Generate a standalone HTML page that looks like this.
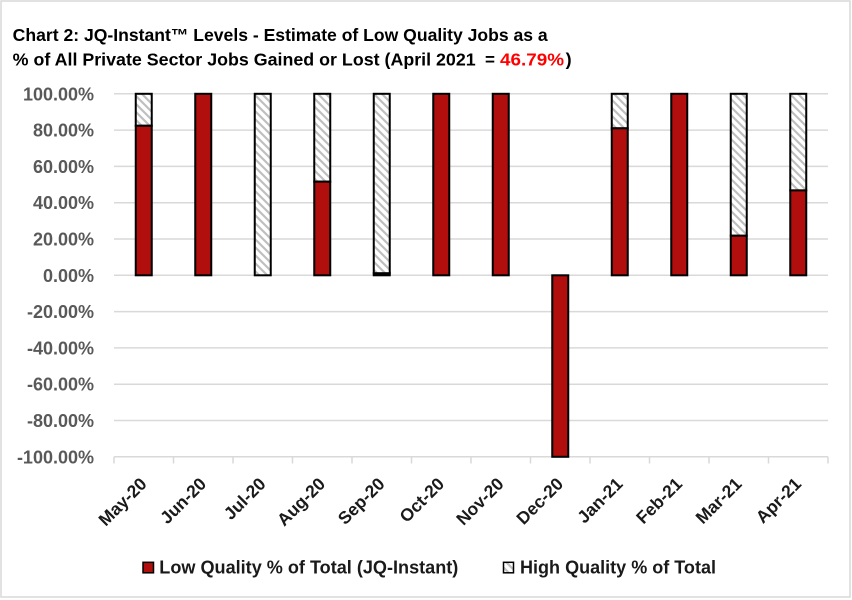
<!DOCTYPE html>
<html>
<head>
<meta charset="utf-8">
<style>
  html, body { margin: 0; padding: 0; background: #ffffff; }
  body { width: 852px; height: 600px; overflow: hidden; }
  svg { display: block; }
  text { font-family: "Liberation Sans", Arial, sans-serif; font-weight: bold; }
</style>
</head>
<body>
<svg width="852" height="600" viewBox="0 0 852 600" xmlns="http://www.w3.org/2000/svg">
  <defs>
    <pattern id="hatch" patternUnits="userSpaceOnUse" width="8" height="8">
      <rect width="8" height="8" fill="#ffffff"/>
      <path d="M-2,-2 L10,10 M-2,6 L2,10 M6,-2 L10,2" stroke="#bfbfbf" stroke-width="2.2"/>
    </pattern>
  </defs>

  <!-- background + outer border -->
  <rect x="0" y="0" width="852" height="600" fill="#ffffff"/>
  <rect x="1" y="1" width="849" height="596" fill="none" stroke="#d9d9d9" stroke-width="1.5"/>

  <!-- Title -->
  <text x="12.7" y="41" font-size="17.5" fill="#000000" textLength="535" lengthAdjust="spacingAndGlyphs">Chart 2: JQ-Instant™ Levels - Estimate of Low Quality Jobs as a</text>
  <text x="12.7" y="65.5" font-size="17.5" fill="#000000" textLength="463" lengthAdjust="spacingAndGlyphs">% of All Private Sector Jobs Gained or Lost (April 2021</text>
  <text x="485" y="65.5" font-size="17.5" fill="#000000" textLength="10" lengthAdjust="spacingAndGlyphs">=</text>
  <text x="500" y="65.5" font-size="17.5" fill="#ff0000" textLength="64" lengthAdjust="spacingAndGlyphs">46.79%</text>
  <text x="565.7" y="65.5" font-size="17.5" fill="#000000" textLength="6" lengthAdjust="spacingAndGlyphs">)</text>

  <!-- gridlines -->
  <g stroke="#d9d9d9" stroke-width="1.5">
    <line x1="114" y1="93.8" x2="828" y2="93.8"/>
    <line x1="114" y1="130.1" x2="828" y2="130.1"/>
    <line x1="114" y1="166.4" x2="828" y2="166.4"/>
    <line x1="114" y1="202.7" x2="828" y2="202.7"/>
    <line x1="114" y1="239.0" x2="828" y2="239.0"/>
    <line x1="114" y1="275.3" x2="828" y2="275.3"/>
    <line x1="114" y1="311.6" x2="828" y2="311.6"/>
    <line x1="114" y1="347.9" x2="828" y2="347.9"/>
    <line x1="114" y1="384.2" x2="828" y2="384.2"/>
    <line x1="114" y1="420.5" x2="828" y2="420.5"/>
    <!-- category axis at -100% -->
    <line x1="114" y1="456.8" x2="828" y2="456.8"/>
    <!-- tick marks -->
    <line x1="114" y1="456.8" x2="114" y2="463.5"/>
    <line x1="173.5" y1="456.8" x2="173.5" y2="463.5"/>
    <line x1="233" y1="456.8" x2="233" y2="463.5"/>
    <line x1="292.5" y1="456.8" x2="292.5" y2="463.5"/>
    <line x1="352" y1="456.8" x2="352" y2="463.5"/>
    <line x1="411.5" y1="456.8" x2="411.5" y2="463.5"/>
    <line x1="471" y1="456.8" x2="471" y2="463.5"/>
    <line x1="530.5" y1="456.8" x2="530.5" y2="463.5"/>
    <line x1="590" y1="456.8" x2="590" y2="463.5"/>
    <line x1="649.5" y1="456.8" x2="649.5" y2="463.5"/>
    <line x1="709" y1="456.8" x2="709" y2="463.5"/>
    <line x1="768.5" y1="456.8" x2="768.5" y2="463.5"/>
    <line x1="828" y1="456.8" x2="828" y2="463.5"/>
  </g>

  <!-- Y axis labels -->
  <g font-size="18" fill="#595959" text-anchor="end">
    <text x="94" y="100.3">100.00%</text>
    <text x="94" y="136.6">80.00%</text>
    <text x="94" y="172.9">60.00%</text>
    <text x="94" y="209.2">40.00%</text>
    <text x="94" y="245.5">20.00%</text>
    <text x="94" y="281.8">0.00%</text>
    <text x="94" y="318.1">-20.00%</text>
    <text x="94" y="354.4">-40.00%</text>
    <text x="94" y="390.7">-60.00%</text>
    <text x="94" y="427.0">-80.00%</text>
    <text x="94" y="463.3">-100.00%</text>
  </g>

  <!-- Bars -->
  <g stroke="#000000" stroke-width="2">
    <!-- May-20 82.4% -->
    <rect x="135.75" y="93.8" width="16" height="31.94" fill="url(#hatch)"/>
    <rect x="135.75" y="125.74" width="16" height="149.56" fill="#b10e0e"/>
    <!-- Jun-20 100% -->
    <rect x="195.25" y="93.8" width="16" height="181.5" fill="#b10e0e"/>
    <!-- Jul-20 0% -->
    <rect x="254.75" y="93.8" width="16" height="181.5" fill="url(#hatch)"/>
    <!-- Aug-20 51.6% -->
    <rect x="314.25" y="93.8" width="16" height="87.85" fill="url(#hatch)"/>
    <rect x="314.25" y="181.65" width="16" height="93.65" fill="#b10e0e"/>
    <!-- Sep-20 ~1% -->
    <rect x="373.75" y="93.8" width="16" height="179.5" fill="url(#hatch)"/>
    <rect x="373.75" y="273.3" width="16" height="2" fill="#b10e0e"/>
    <!-- Oct-20 100% -->
    <rect x="433.25" y="93.8" width="16" height="181.5" fill="#b10e0e"/>
    <!-- Nov-20 100% -->
    <rect x="492.75" y="93.8" width="16" height="181.5" fill="#b10e0e"/>
    <!-- Dec-20 -100% -->
    <rect x="552.25" y="275.3" width="16" height="181.5" fill="#b10e0e"/>
    <!-- Jan-21 81% -->
    <rect x="611.75" y="93.8" width="16" height="34.5" fill="url(#hatch)"/>
    <rect x="611.75" y="128.3" width="16" height="147.0" fill="#b10e0e"/>
    <!-- Feb-21 100% -->
    <rect x="671.25" y="93.8" width="16" height="181.5" fill="#b10e0e"/>
    <!-- Mar-21 21.8% -->
    <rect x="730.75" y="93.8" width="16" height="141.9" fill="url(#hatch)"/>
    <rect x="730.75" y="235.7" width="16" height="39.6" fill="#b10e0e"/>
    <!-- Apr-21 46.79% -->
    <rect x="790.25" y="93.8" width="16" height="96.6" fill="url(#hatch)"/>
    <rect x="790.25" y="190.4" width="16" height="84.9" fill="#b10e0e"/>
  </g>

  <!-- X axis labels (rotated -45) -->
  <g font-size="17.5" fill="#1a1a1a" text-anchor="end">
    <text transform="translate(147.75,485) rotate(-45)">May-20</text>
    <text transform="translate(207.25,485) rotate(-45)">Jun-20</text>
    <text transform="translate(266.75,485) rotate(-45)">Jul-20</text>
    <text transform="translate(326.25,485) rotate(-45)">Aug-20</text>
    <text transform="translate(385.75,485) rotate(-45)">Sep-20</text>
    <text transform="translate(445.25,485) rotate(-45)">Oct-20</text>
    <text transform="translate(504.75,485) rotate(-45)">Nov-20</text>
    <text transform="translate(564.25,485) rotate(-45)">Dec-20</text>
    <text transform="translate(623.75,485) rotate(-45)">Jan-21</text>
    <text transform="translate(683.25,485) rotate(-45)">Feb-21</text>
    <text transform="translate(742.75,485) rotate(-45)">Mar-21</text>
    <text transform="translate(802.25,485) rotate(-45)">Apr-21</text>
  </g>

  <!-- Legend -->
  <rect x="143" y="562.3" width="10.5" height="10.5" fill="#b10e0e" stroke="#000000" stroke-width="1.5"/>
  <text x="159.3" y="573.3" font-size="18" fill="#1a1a1a" textLength="299" lengthAdjust="spacingAndGlyphs">Low Quality % of Total (JQ-Instant)</text>
  <rect x="503.5" y="562.3" width="10" height="10.5" fill="url(#hatch)" stroke="#000000" stroke-width="1.5"/>
  <text x="520" y="573.3" font-size="18" fill="#1a1a1a" textLength="196" lengthAdjust="spacingAndGlyphs">High Quality % of Total</text>
</svg>
</body>
</html>
